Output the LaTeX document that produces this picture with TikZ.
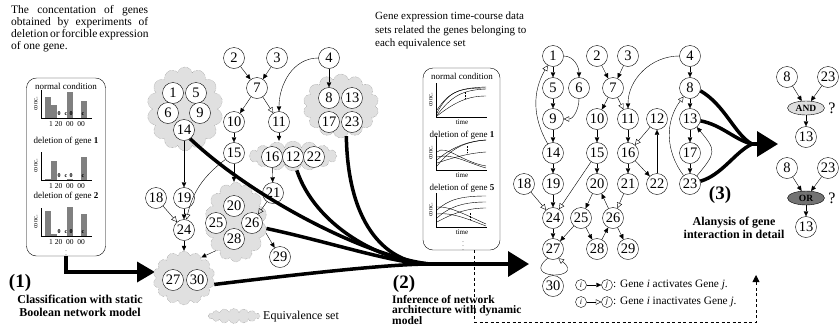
\documentclass[tikz,border=0pt]{standalone}
\usepackage{fontspec}
\setmainfont{Liberation Serif}
\usetikzlibrary{positioning}
\usetikzlibrary{arrows.meta, shapes.geometric, shapes.symbols}

\begin{document}
\begin{tikzpicture}[x=1pt, y=-1pt,
  gene/.style={circle, draw, fill=white, minimum size=21pt, inner sep=0pt,
    font=\fontsize{14.5}{14.5}\selectfont},
  legnode/.style={circle, draw, fill=white, minimum size=11pt, inner sep=0pt,
    font=\fontsize{8}{8}\selectfont\itshape},
  eqset/.style={cloud, cloud puffs=14, cloud ignores aspect, draw=gray,
    densely dotted, fill=black!12, inner sep=0pt},
  act/.style={-{Triangle[length=5pt,width=4.5pt]}},
  inh/.style={-{Triangle[open,length=5.5pt,width=5.5pt]}},
  flow/.style={line width=3.5pt},
  bigarrow/.style={flow, -{Triangle[length=21pt,width=25pt]}},
  gate/.style={ellipse, draw, inner sep=1pt, minimum width=37pt, minimum height=14pt,
    font=\bfseries\fontsize{9.5}{9.5}\selectfont},
  plottitle/.style={inner sep=0pt, font=\fontsize{9}{9}\selectfont},
  axlabel/.style={inner sep=0pt, font=\fontsize{6.5}{6.5}\selectfont},
  zero/.style={inner sep=0pt, font=\bfseries\fontsize{6}{6}\selectfont},
  stagenum/.style={inner sep=0pt, font=\bfseries\fontsize{19}{19}\selectfont},
  stagetext/.style={inner sep=0pt, font=\bfseries\fontsize{12}{12.5}\selectfont},
  note/.style={inner sep=0pt, align=left, anchor=north west}
]
\useasboundingbox (0,0) rectangle (840,330);

% texts on top
\node[note, font=\fontsize{11.5}{12}\selectfont] (txt1) at (11,5)
  {\makebox[137pt][s]{The concentation of genes}\\
   \makebox[137pt][s]{obtained by experiments of}\\
   \makebox[137pt][s]{deletion or forcible expression}\\
   of one gene.};
\node[note, font=\fontsize{11}{13.5}\selectfont] (txt2) at (375,12)
  {Gene expression time-course data\\
   sets related the genes belonging to\\
   each equivalence set};

% (1) static data
\node[draw, rounded corners=10pt, minimum width=79pt, minimum height=178pt] (data1) at (66,167) {};
\foreach \yb/\yt/\ha/\hb/\hc/\hd/\nm [count=\k] in
  {118/86/21/13/26/17/{normal condition},
   180/141/1/19/1/23/{deletion of gene \textbf{1}},
   236/196/25/2/29/22/{deletion of gene \textbf{2}}} {
  \node[plottitle] (bt\k) at (66,\yt) {\nm};
  \fill[gray] (45,\yb) rectangle ++(6,-\ha);
  \fill[gray] (51,\yb) rectangle ++(6,-\hb);
  \fill[gray] (67,\yb) rectangle ++(6,-\hc);
  \fill[gray] (81,\yb) rectangle ++(6,-\hd);
  \draw (41,\yb-28) -- (41,\yb) -- (92,\yb);
  \node[axlabel, rotate=90] (bc\k) at (36,\yb-14) {conc.};
  \node[zero] (bza\k) at (59,\yb-4) {0};
  \node[zero] (bzb\k) at (66,\yb-4) {c};
  \node[zero] (bzc\k) at (71,\yb-4) {0};
  \node[zero] (bzd\k) at (83,\yb-4) {c};
  \node[axlabel, font=\fontsize{7.5}{7.5}\selectfont] (bl\k) at (67,\yb+6) {1 20\ \ 00\ \ 00};
}
\node[inner sep=0pt, font=\fontsize{6}{6}\selectfont] (bdots) at (66,252) {\vdots};
\coordinate (t1) at (155,272);
\draw[flow, -{Triangle[length=18pt,width=20pt]}] (data1.south) |- (t1);
\node[stagenum] (l1) at (20,283) {(1)};
\node[stagetext, align=center] (l1t) at (80,306) {Classification with static\\Boolean network model};

% equivalence sets
\node[eqset, minimum width=76pt, minimum height=84pt] (c1) at (185,109) {};
\node[eqset, minimum width=76pt, minimum height=64pt] (c8) at (341,106) {};
\node[eqset, minimum width=88pt, minimum height=30pt, cloud puffs=16] (c16) at (293,156) {};
\node[eqset, minimum width=62pt, minimum height=80pt] (c2) at (236,222) {};
\node[eqset, minimum width=62pt, minimum height=54pt] (c27) at (184,278) {};
\node[eqset, minimum width=52pt, minimum height=15pt, cloud puffs=16] (cleg) at (234,316) {};
\node[anchor=west, inner sep=0pt, font=\fontsize{12}{12}\selectfont] (legset) at (263,317) {Equivalence set};

% Boolean network
\foreach \n/\x/\y in {1/173/93, 5/196/93, 6/168/113, 9/200/113, 14/184/130,
  2/234/58, 3/277/58, 4/329/58, 7/257/88, 10/234/122, 11/279/122, 15/234/153,
  8/329/98, 13/352/98, 17/329/122, 23/352/122, 16/272/157, 12/293/157, 22/314/157,
  21/273/193, 18/156/198, 19/184/198, 24/184/230, 20/234/206, 25/216/223,
  26/252/223, 28/234/239, 29/280/257, 27/173/280, 30/197/280}
  \node[gene] (b\n) at (\x,\y) {\n};

\path[act] (b2) edge (b7)
  (b3) edge (b7)
  (b7) edge (b10)
  (b4) edge[out=180, in=90] (b11)
  (b4) edge (b8)
  (b10) edge (b15)
  (b11) edge (b11 |- c16.north)
  (b16) edge (b21)
  (b14) edge (b19)
  (b15) edge (b15 |- c2.north)
  (b19) edge (b24)
  (b24) edge (b24 |- c27.north)
  (c2.235) edge (c27.50)
  (c2.-20) edge (b29);
\path[inh] (b7) edge (b11)
  (b15) edge[bend right=20] (b24)
  (b18) edge (b24)
  (b21) edge (b26);

% (2) dynamic data
\node[draw, rounded corners=10pt, minimum width=77pt, minimum height=182pt] (data2) at (461.5,159) {};
\foreach \yb/\yt/\nm [count=\k] in
  {117/76/{normal condition}, 170/135/{deletion of gene \textbf{1}},
   227/188/{deletion of gene \textbf{5}}} {
  \node[plottitle] (dt\k) at (462,\yt) {\nm};
  \draw (436,\yb-34) -- (436,\yb) -- (487,\yb);
  \node[axlabel, rotate=90] (dc\k) at (431,\yb-17) {conc.};
  \node[axlabel, font=\fontsize{7}{7}\selectfont] (dx\k) at (462,\yb+5) {time};
}
\draw (437,113) .. controls (448,92) and (458,88) .. (486,87);
\draw (437,110) .. controls (450,90) and (462,88) .. (486,88);
\draw (437,115) .. controls (452,96) and (462,90) .. (486,89);
\draw (437,116) .. controls (455,102) and (468,96) .. (486,96);
\draw[densely dotted] (465,92) -- (465,99);
\draw (437,166) .. controls (450,150) and (462,142) .. (486,140);
\draw (437,160) .. controls (448,150) and (465,141) .. (486,140);
\draw (437,163) .. controls (455,157) and (470,153) .. (486,152);
\draw (437,152) .. controls (445,144) and (462,162) .. (486,166);
\draw (437,157) .. controls (452,153) and (468,163) .. (486,168);
\draw[densely dotted] (467,146) -- (467,153);
\draw (437,210) .. controls (448,200) and (460,196) .. (486,196);
\draw (437,218) .. controls (450,206) and (465,202) .. (486,202);
\draw (437,222) .. controls (455,212) and (470,208) .. (486,208);
\draw (437,207) .. controls (450,206) and (468,216) .. (486,224);
\draw (437,214) .. controls (452,212) and (470,220) .. (486,226);
\draw[densely dotted] (470,213) -- (470,220);
\node[inner sep=0pt, font=\fontsize{6}{6}\selectfont] (ddots) at (463,243) {\vdots};

% flows into the dynamic model
\coordinate (m2) at (430,264);
\coordinate (t2) at (529,264);
\draw[flow] (b14.-55) .. controls (255,200) and (370,258) .. (m2);
\draw[flow] (c16.-75) .. controls (315,225) and (380,262) .. (m2);
\draw[flow] (c8.-80) .. controls (348,230) and (390,264) .. (m2);
\draw[flow] (c2.-12) .. controls (330,242) and (395,264) .. (m2);
\draw[flow] (c27.-12) .. controls (300,274) and (390,264) .. (m2);
\draw[bigarrow] (m2) -- (t2);
\node[stagenum] (l2) at (404,284) {(2)};
\node[stagetext, note, font=\bfseries\fontsize{11.5}{10.5}\selectfont] (l2t) at (392,295)
  {Inference of network\\architecture with dynamic\\model};

% feedback
\coordinate (fb) at (756,275);
\draw[line width=0.9pt, dash pattern=on 3pt off 2.5pt, -{Triangle[length=7pt,width=7pt]}]
  ([xshift=13pt]data2.south) -- ++(0,72) -| (fb);

% inferred network
\foreach \n/\x/\y in {1/553/56, 2/597/56, 3/628/56, 4/690/56, 5/553/88, 6/579/88,
  7/613/88, 8/690/88, 9/553/119, 10/597/119, 11/628/119, 12/657/119, 13/690/119,
  14/553/153, 15/597/153, 16/628/153, 17/690/153, 18/524/184, 19/553/184,
  20/597/184, 21/628/184, 22/657/184, 23/690/184, 24/553/218, 25/581/218,
  26/613/218, 27/553/249, 28/597/249, 29/628/249, 30/553/286}
  \node[gene] (g\n) at (\x,\y) {\n};

\path[act] (g1) edge (g5)
  (g5) edge (g9)
  (g9) edge (g14)
  (g14) edge (g19)
  (g19) edge (g24)
  (g24) edge (g27)
  (g1) edge[out=0, in=90] (g6)
  (g2) edge (g7)
  (g3) edge (g7)
  (g7) edge (g10)
  (g4) edge[out=180, in=90] (g11)
  (g4) edge (g8)
  (g8) edge (g13)
  (g13) edge (g17)
  (g17) edge (g23)
  (g23) edge[out=50, in=-50, looseness=1.6] (g13)
  (g10) edge (g15)
  (g15) edge (g20)
  (g11) edge (g16)
  (g16) edge (g21)
  (g16) edge (g22)
  (g22) edge (g12)
  (g20) edge (g25)
  (g26) edge (g20)
  (g25) edge (g27)
  (g25) edge (g28)
  (g28) edge (g26)
  (g26) edge (g29);
\path[inh] (g6) edge[out=-90, in=0] (g9)
  (g14) edge[out=120, in=240] (g1)
  (g7) edge (g11)
  (g23) edge[out=127, in=233] (g8)
  (g12) edge (g16)
  (g15) edge (g24)
  (g18) edge (g24)
  (g21) edge (g26);
\draw[inh] (g27.240) .. controls (520,280) and (586,280) .. (g27.300);

% legend
\node[legnode] (li1) at (581,285) {i};
\node[legnode] (lj1) at (607,285) {j};
\node[legnode] (li2) at (581,302) {i};
\node[legnode] (lj2) at (607,302) {j};
\draw[act] (li1) -- (lj1);
\draw[inh] (li2) -- (lj2);
\node[anchor=west, inner sep=0pt, font=\fontsize{11.3}{11.3}\selectfont] (lt1) at (613,285)
  {: Gene \textit{i} activates Gene \textit{j}.};
\node[anchor=west, inner sep=0pt, font=\fontsize{11.3}{11.3}\selectfont] (lt2) at (613,302)
  {: Gene \textit{i} inactivates Gene \textit{j}.};

% (3) interaction in detail
\coordinate (m3) at (752,144);
\coordinate (t3) at (778,144);
\draw[flow] (g8.-15) .. controls (725,105) and (735,135) .. (m3);
\draw[flow] (g13.-10) .. controls (722,125) and (735,140) .. (m3);
\draw[flow] (g23.15) .. controls (722,175) and (735,152) .. (m3);
\draw[bigarrow] (m3) -- (t3);
\node[stagenum] (l3) at (720,195) {(3)};
\node[stagetext, align=center] (l3t) at (734,228) {Alanysis of gene\\interaction in detail};

\node[gene] (a8) at (787,77) {8};
\node[gene] (a23) at (828,77) {23};
\node[gate, fill=black!13] (and) at (806,108) {AND};
\node[gene] (a13) at (806,137) {13};
\node[inner sep=0pt, font=\fontsize{16}{16}\selectfont] (q1) at (832,108) {?};
\node[gene] (o8) at (787,168) {8};
\node[gene] (o23) at (828,168) {23};
\node[gate, fill=black!55] (or) at (806,198) {OR};
\node[gene] (o13) at (806,227) {13};
\node[inner sep=0pt, font=\fontsize{16}{16}\selectfont] (q2) at (832,198) {?};
\path[act] (a8) edge (and)
  (a23) edge (and)
  (and) edge (a13)
  (o8) edge (or)
  (o23) edge (or)
  (or) edge (o13);
\end{tikzpicture}
\end{document}
